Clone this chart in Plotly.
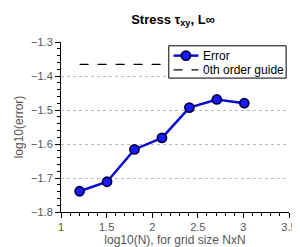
import plotly.graph_objects as go

log_n = [1.204, 1.505, 1.806, 2.107, 2.408, 2.709, 3.010]
log_err = [-1.739, -1.711, -1.616, -1.582, -1.493, -1.469, -1.480]
guide_x = [1.204, 3.010]
guide_y = [-1.366, -1.366]
x_ticks = [1, 1.5, 2, 2.5, 3, 3.5]
x_tick_text = ["1", "1.5", "2", "2.5", "3", "3.5"]
y_ticks = [-1.8, -1.7, -1.6, -1.5, -1.4, -1.3]
y_tick_text = ["\u22121.8", "\u22121.7", "\u22121.6", "\u22121.5", "\u22121.4", "\u22121.3"]
legend_labels = ["Error", "0th order guide"]

LINE_BLUE = "#0a0ad0"
MARK_FILL = "#1a1aff"
MARK_EDGE = "#00004a"

fig = go.Figure()
fig.add_trace(go.Scatter(
    x=log_n, y=log_err, mode="lines+markers", name=legend_labels[0],
    line=dict(color=LINE_BLUE, width=2.5),
    marker=dict(size=9, color=MARK_FILL, line=dict(color=MARK_EDGE, width=1.8)),
))
fig.add_trace(go.Scatter(
    x=guide_x, y=guide_y, mode="lines", name=legend_labels[1],
    line=dict(color="black", width=1.3, dash="dash"),
))

font = "Liberation Sans, Arial, sans-serif"

# manual legend (paper coords relative to plot area)
bx0, bx1, by0, by1 = 0.4728, 0.9874, 0.7877, 0.9777
row1, row2 = 0.920, 0.836
sx0, sx1, sxc = 0.4937, 0.6025, 0.548
tx = 0.615
shapes = [
    dict(type="rect", xref="paper", yref="paper", x0=bx0, x1=bx1, y0=by0, y1=by1,
         fillcolor="white", line=dict(color="black", width=1), layer="above"),
    dict(type="line", xref="paper", yref="paper", x0=sx0, x1=sx1, y0=row1, y1=row1,
         line=dict(color=LINE_BLUE, width=2.5), layer="above"),
    dict(type="circle", xref="paper", yref="paper", xsizemode="pixel", ysizemode="pixel",
         xanchor=sxc, yanchor=row1, x0=-4.5, x1=4.5, y0=-4.5, y1=4.5,
         fillcolor=MARK_FILL, line=dict(color=MARK_EDGE, width=1.8), layer="above"),
    dict(type="line", xref="paper", yref="paper", x0=sx0, x1=sx1, y0=row2, y1=row2,
         line=dict(color="black", width=1.3, dash="dash"), layer="above"),
]
annotations = [
    dict(xref="paper", yref="paper", x=tx, y=yy, text=t, showarrow=False,
         xanchor="left", yanchor="middle", font=dict(family=font, size=12, color="black"))
    for t, yy in zip(legend_labels, [row1, row2])
]

fig.update_layout(
    width=300, height=247,
    margin=dict(l=50, r=11, t=34, b=34),
    paper_bgcolor="white", plot_bgcolor="white",
    showlegend=False,
    shapes=shapes, annotations=annotations,
    title=dict(
        text="<b>Stress \u03c4<sub>xy</sub>, L\u221e</b>",
        x=0.55, xanchor="center", y=0.955, yanchor="middle",
        font=dict(family=font, size=13, color="black"),
    ),
    font=dict(family=font, size=11, color="#444"),
)
fig.update_xaxes(
    range=[1, 3.5], tickvals=x_ticks, ticktext=x_tick_text,
    showline=True, linecolor="black", linewidth=1,
    ticks="outside", ticklen=5, tickcolor="black",
    showgrid=False, zeroline=False,
    minor=dict(ticks="outside", dtick=0.1, ticklen=3, tickcolor="black", showgrid=False),
    tickfont=dict(family=font, size=11, color="#555"),
    title=dict(text="log10(N), for grid size NxN", standoff=2,
               font=dict(family=font, size=12, color="#555")),
)
fig.update_yaxes(
    range=[-1.8, -1.3], tickvals=y_ticks, ticktext=y_tick_text,
    showline=True, linecolor="black", linewidth=1,
    ticks="outside", ticklen=5, tickcolor="black",
    showgrid=True, gridcolor="#bbbbbb", griddash="dot", gridwidth=1,
    zeroline=False,
    minor=dict(ticks="outside", dtick=0.02, ticklen=3, tickcolor="black", showgrid=False),
    tickfont=dict(family=font, size=11, color="#555"),
    title=dict(text="log10(error)", standoff=4,
               font=dict(family=font, size=12, color="#555")),
)
fig.write_html("out.html")
